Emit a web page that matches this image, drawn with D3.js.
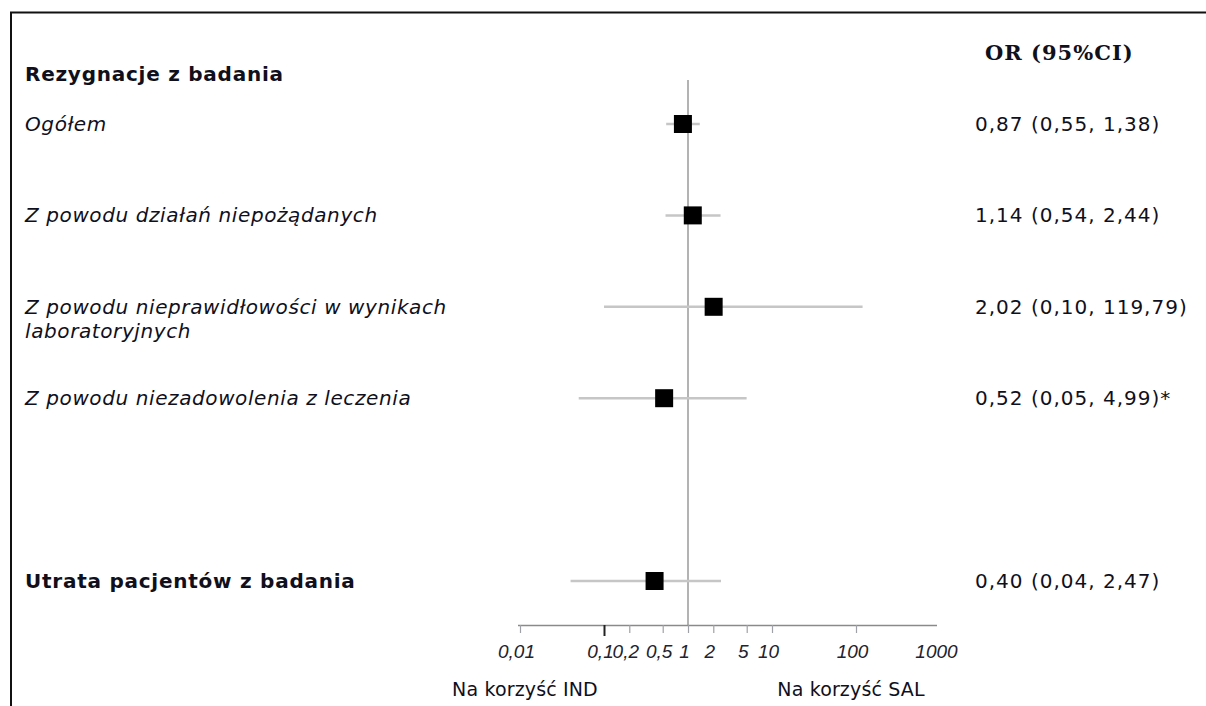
<!DOCTYPE html>
<html>
<head>
<meta charset="utf-8">
<script src="https://cdn.jsdelivr.net/npm/d3@7"></script>
<style>
  html, body { margin: 0; padding: 0; background: #fff; }
  svg { display: block; }
</style>
</head>
<body>
<svg id="chart" width="1206" height="706"></svg>
<script>
// Odds ratios (95% CI) for study discontinuation outcomes
const labels = [
  ["Ogółem"],
  ["Z powodu działań niepożądanych"],
  ["Z powodu nieprawidłowości w wynikach", "laboratoryjnych"],
  ["Z powodu niezadowolenia z leczenia"],
  ["Utrata pacjentów z badania"]
];
const orValues = [0.87, 1.14, 2.02, 0.52, 0.40];
const ciLow    = [0.55, 0.54, 0.10, 0.05, 0.04];
const ciHigh   = [1.38, 2.44, 119.79, 4.99, 2.47];
const rowIndex = [1, 2, 3, 4, 6];
const boldRow  = [false, false, false, false, true];
const noteMark = ["", "", "", "*", ""];

const groupTitle = "Rezygnacje z badania";
const columnTitle = "OR (95%CI)";
const tickValues = [0.01, 0.1, 0.2, 0.5, 1, 2, 5, 10, 100, 1000];
const tickLabels = ["0,01", "0,1", "0,2", "0,5", "1", "2", "5", "10", "100", "1000"];
const leftNote = "Na korzyść IND";
const rightNote = "Na korzyść SAL";

const svg = d3.select("#chart");
const textColor = "#10101c";
const sansFont = "'DejaVu Sans', Verdana, sans-serif";

// frame (top and left edges)
svg.append("path")
  .attr("d", "M11,706 V12.5 H1206")
  .attr("fill", "none")
  .attr("stroke", "#111")
  .attr("stroke-width", 2);

// scales
const x = d3.scaleLog().domain([0.01, 1000]).range([520, 940]);
const y = d3.scaleLinear().domain([1, 6]).range([124, 581]);
const axisY = 625;

const fmt = v => d3.format(".2f")(v).replace(".", ",");

// reference line at OR = 1
svg.append("line")
  .attr("x1", x(1)).attr("x2", x(1))
  .attr("y1", 80).attr("y2", axisY)
  .attr("stroke", "#9a9a9a")
  .attr("stroke-width", 1.5);

// axis
const axis = d3.axisBottom(x)
  .tickValues(tickValues)
  .tickFormat((d, i) => tickLabels[i])
  .tickSize(8)
  .tickSizeOuter(0);

const gAxis = svg.append("g")
  .attr("transform", `translate(0,${axisY})`)
  .call(axis);
gAxis.select(".domain")
  .attr("stroke", "#8a8a8a")
  .attr("stroke-width", 1.5)
  .attr("d", `M${x(0.01) - 2},0.5H${x(1000) - 3}`);
gAxis.selectAll(".tick line")
  .attr("stroke", d => d === 0.1 ? "#222" : "#a0a0a8")
  .attr("stroke-width", d => d === 0.1 ? 2 : 1.2)
  .attr("y2", d => d === 0.1 ? 11 : (d === 1000 ? 0 : 8));
gAxis.selectAll(".tick text")
  .attr("y", 20)
  .attr("dy", "0.71em")
  .attr("dx", -4)
  .attr("fill", "#23232e")
  .style("font-family", "'Liberation Sans', Arial, sans-serif")
  .style("font-style", "italic")
  .style("font-size", "19px");

// favour notes under the axis
[[leftNote, 525], [rightNote, 851]].forEach(([t, cx]) => {
  svg.append("text")
    .attr("x", cx).attr("y", 696)
    .attr("text-anchor", "middle")
    .attr("fill", textColor)
    .style("font-family", sansFont)
    .style("font-size", "19px")
    .style("letter-spacing", "0.15px")
    .text(t);
});

// headings
svg.append("text")
  .attr("x", 25).attr("y", 81)
  .attr("fill", textColor)
  .style("font-family", sansFont)
  .style("font-weight", "bold")
  .style("font-size", "20px")
  .style("letter-spacing", "0.75px")
  .text(groupTitle);
svg.append("text")
  .attr("x", 985).attr("y", 60)
  .attr("fill", textColor)
  .style("font-family", "'DejaVu Serif', Georgia, serif")
  .style("font-weight", "bold")
  .style("font-size", "21px")
  .style("letter-spacing", "1px")
  .text(columnTitle);

const rows = orValues.map((v, i) => ({
  label: labels[i], or: v, lo: ciLow[i], hi: ciHigh[i],
  row: rowIndex[i], bold: boldRow[i], note: noteMark[i]
}));

// confidence interval lines
svg.selectAll("line.ci")
  .data(rows)
  .join("line")
  .attr("class", "ci")
  .attr("x1", d => x(d.lo)).attr("x2", d => x(d.hi))
  .attr("y1", d => y(d.row)).attr("y2", d => y(d.row))
  .attr("stroke", "#c6c6c6")
  .attr("stroke-width", 2.5);

// point estimates
const boxSize = 18;
svg.selectAll("rect.or")
  .data(rows)
  .join("rect")
  .attr("class", "or")
  .attr("x", d => x(d.or) - boxSize / 2)
  .attr("y", d => y(d.row) - boxSize / 2)
  .attr("width", boxSize).attr("height", boxSize)
  .attr("fill", "#000");

// row labels
const lab = svg.selectAll("text.label")
  .data(rows)
  .join("text")
  .attr("class", "label")
  .attr("x", 25)
  .attr("y", d => y(d.row) + 7)
  .attr("fill", textColor)
  .style("font-family", sansFont)
  .style("font-size", "20px")
  .style("letter-spacing", d => d.bold ? "0.75px" : "0.6px")
  .style("font-style", d => d.bold ? "normal" : "italic")
  .style("font-weight", d => d.bold ? "bold" : "normal");
lab.selectAll("tspan")
  .data(d => d.label)
  .join("tspan")
  .attr("x", 25)
  .attr("dy", (d, i) => i === 0 ? 0 : 24)
  .text(d => d);

// value column
svg.selectAll("text.value")
  .data(rows)
  .join("text")
  .attr("class", "value")
  .attr("x", 975)
  .attr("y", d => y(d.row) + 7)
  .attr("fill", textColor)
  .style("font-family", sansFont)
  .style("font-size", "20px")
  .style("letter-spacing", "1px")
  .text(d => `${fmt(d.or)} (${fmt(d.lo)}, ${fmt(d.hi)})${d.note}`);
</script>
</body>
</html>
